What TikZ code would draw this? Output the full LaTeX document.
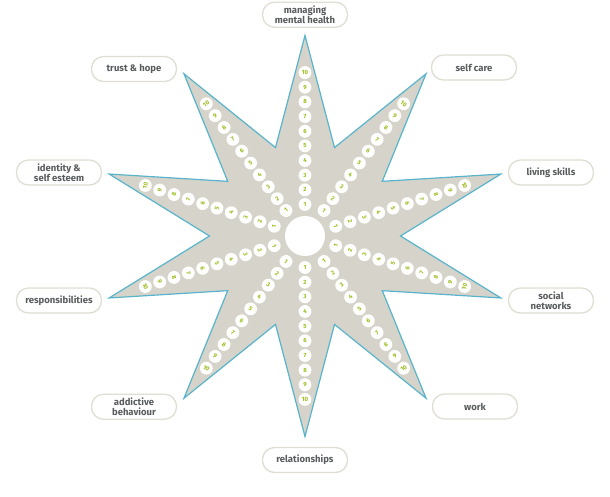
\documentclass[tikz,border=0pt]{standalone}
\usepackage{fontspec}
\setmainfont{Fira Sans}
\definecolor{starfill}{RGB}{214,212,202}
\definecolor{starline}{RGB}{88,180,204}
\definecolor{boxline}{RGB}{224,222,210}
\definecolor{labeltext}{RGB}{88,92,94}
\definecolor{digit}{RGB}{155,188,25}
\begin{document}
\begin{tikzpicture}[x=1pt,y=1pt,
  labelbox/.style={draw=boxline, line width=1.3pt, fill=white, rounded corners=12pt,
    minimum width=85pt, minimum height=25pt, inner sep=1pt, align=center,
    font=\fontsize{9.5}{10}\selectfont\bfseries, text=labeltext},
  numdot/.style={circle, fill=white, minimum size=12.8pt, inner sep=0pt,
    font=\fontsize{6}{6}\selectfont\bfseries, text=digit},
  hub/.style={circle, fill=white, minimum size=40pt, inner sep=0pt},
  starshape/.style={draw=starline, fill=starfill, line width=1.2pt, line join=miter}]
\useasboundingbox (-305,-260) rectangle (305,236);
% star vertices
\foreach \k in {0,...,9}{
  \coordinate (t\k) at ({1.027*200.5*cos(90+36*\k)}, {200.5*sin(90+36*\k)});
  \coordinate (i\k) at ({1.027*93*cos(108+36*\k)}, {93*sin(108+36*\k)});
}
\draw[starshape] (t0) -- (i0) -- (t1) -- (i1) -- (t2) -- (i2) -- (t3) -- (i3) -- (t4) -- (i4)
  -- (t5) -- (i5) -- (t6) -- (i6) -- (t7) -- (i7) -- (t8) -- (i8) -- (t9) -- (i9) -- cycle;
% hub
\node[hub] (hub) at (0,0) {};
% numbered dots
\foreach \k in {0,...,9}{
  \pgfmathsetmacro\ang{90+36*\k}
  \pgfmathsetmacro\rot{ifthenelse(sin(\ang)>0,\ang-90,\ang+90)}
  \foreach \n in {1,...,10}{
    \pgfmathsetmacro\rr{31.5+14.66*(\n-1)}
    \node[numdot, rotate=\rot] (d\k-\n) at ({1.027*\rr*cos(\ang)}, {\rr*sin(\ang)}) {\n};
  }
}
% labels
\node[labelbox] (mmh) at (0,221.3) {managing\\mental health};
\node[labelbox] (trust) at (-171,167) {trust \& hope};
\node[labelbox] (selfcare) at (169,168.5) {self care};
\node[labelbox] (living) at (246,63.5) {living skills};
\node[labelbox] (social) at (246,-64.5) {social\\networks};
\node[labelbox] (identity) at (-246,63.5) {identity \&\\self esteem};
\node[labelbox] (resp) at (-246,-64.5) {responsibilities};
\node[labelbox] (addict) at (-171,-170.7) {addictive\\behaviour};
\node[labelbox] (rel) at (0,-224) {relationships};
\node[labelbox] (work) at (170,-170.5) {work};
\end{tikzpicture}
\end{document}
